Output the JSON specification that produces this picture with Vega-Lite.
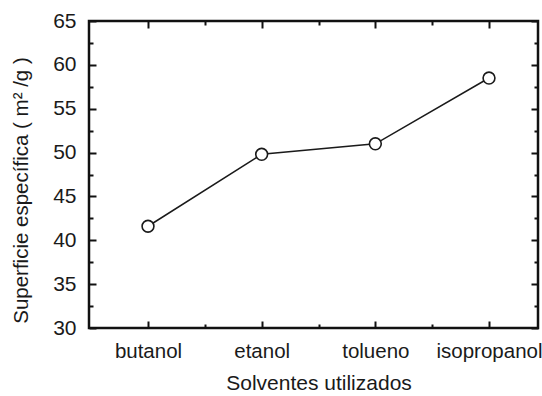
{
  "$schema": "https://vega.github.io/schema/vega-lite/v6.json",
  "width": 449,
  "height": 307,
  "autosize": {"type": "none"},
  "padding": {"left": 89, "top": 21, "right": 4, "bottom": 68},
  "background": "white",
  "config": {
    "view": {"stroke": "#111", "strokeWidth": 2.5},
    "font": "Liberation Sans",
    "axis": {"domain": false, "grid": false, "tickColor": "#111", "tickWidth": 2, "labelColor": "#1a1a1a", "titleColor": "#1a1a1a", "titleFontWeight": "normal", "labelFont": "Liberation Sans", "titleFont": "Liberation Sans"}
  },
  "data": {
    "values": [
      {"solvente": "butanol", "superficie": 41.6},
      {"solvente": "etanol", "superficie": 49.8},
      {"solvente": "tolueno", "superficie": 51.0},
      {"solvente": "isopropanol", "superficie": 58.5}
    ]
  },
  "layer": [
    {
      "mark": {"type": "line", "color": "#1a1a1a", "strokeWidth": 1.5},
      "encoding": {
        "x": {"field": "solvente", "type": "nominal", "sort": ["butanol", "etanol", "tolueno", "isopropanol"],
          "scale": {"type": "point", "range": [59, 400], "padding": 0},
          "axis": {"orient": "bottom", "tickSize": -7, "labelAngle": 0, "labelFontSize": 20.5, "labelPadding": 20, "labelOverlap": false, "title": "Solventes utilizados", "titleFontSize": 21, "titlePadding": 11}},
        "y": {"field": "superficie", "type": "quantitative", "scale": {"domain": [30, 65], "nice": false, "zero": false},
          "axis": {"orient": "left", "values": [30, 35, 40, 45, 50, 55, 60, 65], "tickSize": -7, "labelFontSize": 21, "labelPadding": 20, "title": "Superficie específica ( m² /g )", "titleFontSize": 20.5, "titlePadding": 21, "titleY": 169}}
      }
    },
    {
      "mark": {"type": "point", "shape": "circle", "filled": true, "fill": "white", "stroke": "#1a1a1a", "strokeWidth": 1.6, "size": 140, "opacity": 1},
      "encoding": {
        "x": {"field": "solvente", "type": "nominal", "sort": ["butanol", "etanol", "tolueno", "isopropanol"],
          "scale": {"type": "point", "range": [59, 400], "padding": 0},
          "axis": {"orient": "bottom", "values": ["butanol", "etanol", "tolueno"], "tickOffset": 57, "tickSize": -4, "labels": false, "title": null}},
        "y": {"field": "superficie", "type": "quantitative", "scale": {"domain": [30, 65], "nice": false, "zero": false},
          "axis": {"orient": "left", "values": [32.5, 37.5, 42.5, 47.5, 52.5, 57.5, 62.5], "tickSize": -4, "labels": false, "title": null}}
      }
    },
    {
      "mark": {"type": "point", "opacity": 0},
      "encoding": {
        "x": {"field": "solvente", "type": "nominal", "sort": ["butanol", "etanol", "tolueno", "isopropanol"],
          "scale": {"type": "point", "range": [59, 400], "padding": 0},
          "axis": {"orient": "top", "tickSize": -7, "labels": false, "title": null}},
        "y": {"field": "superficie", "type": "quantitative", "scale": {"domain": [30, 65], "nice": false, "zero": false},
          "axis": {"orient": "right", "values": [30, 35, 40, 45, 50, 55, 60, 65], "tickSize": -7, "labels": false, "title": null}}
      }
    },
    {
      "mark": {"type": "point", "opacity": 0},
      "encoding": {
        "x": {"field": "solvente", "type": "nominal", "sort": ["butanol", "etanol", "tolueno", "isopropanol"],
          "scale": {"type": "point", "range": [59, 400], "padding": 0},
          "axis": {"orient": "top", "values": ["butanol", "etanol", "tolueno"], "tickOffset": 57, "tickSize": -4, "labels": false, "title": null}},
        "y": {"field": "superficie", "type": "quantitative", "scale": {"domain": [30, 65], "nice": false, "zero": false},
          "axis": {"orient": "right", "values": [32.5, 37.5, 42.5, 47.5, 52.5, 57.5, 62.5], "tickSize": -4, "labels": false, "title": null}}
      }
    }
  ],
  "resolve": {"axis": {"x": "independent", "y": "independent"}}
}
